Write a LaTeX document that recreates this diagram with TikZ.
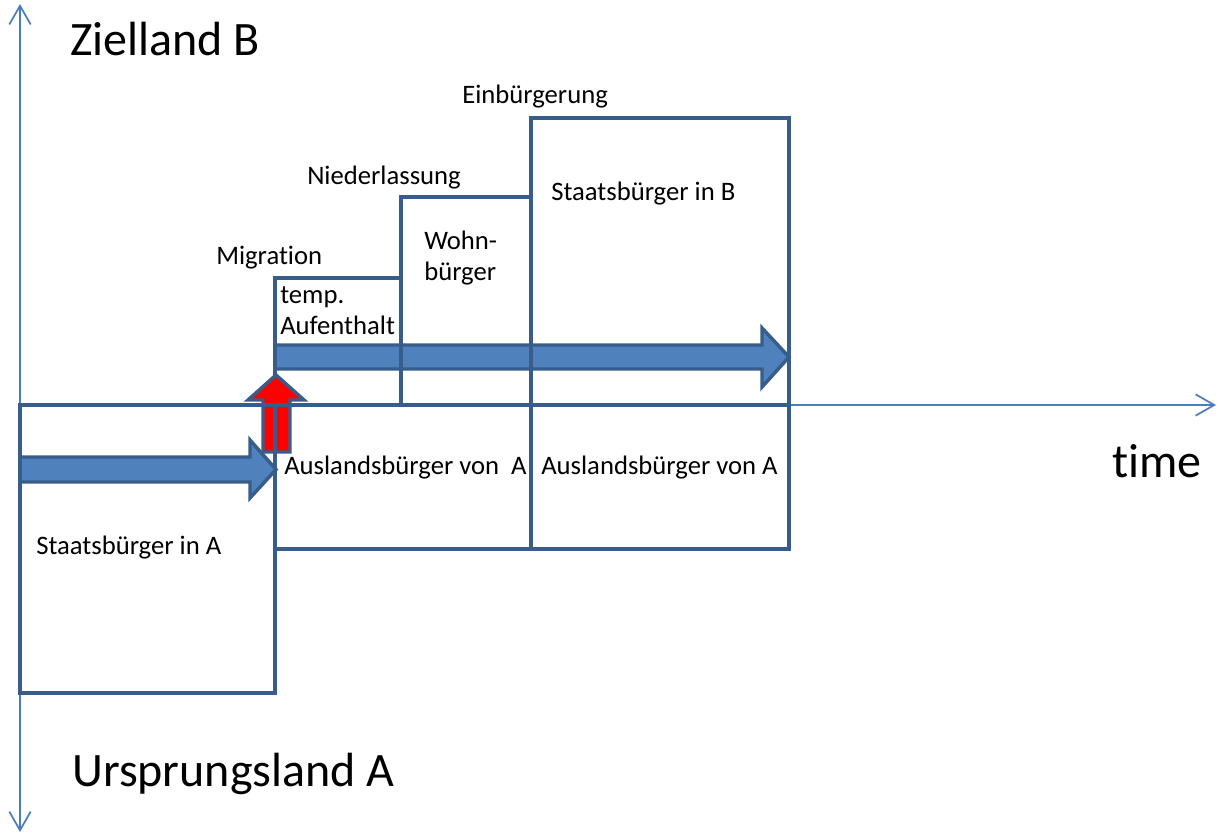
\documentclass[tikz,border=0pt]{standalone}
\usepackage{fontspec}
\setmainfont{Carlito}[Ligatures=NoCommon]
\usetikzlibrary{arrows.meta}
\definecolor{boxline}{HTML}{385D8A}
\definecolor{arrowfill}{HTML}{4F81BD}
\definecolor{axisline}{HTML}{4A7EBB}
\tikzset{
  stage/.style={draw=boxline, line width=3.5pt},
  blockarrow/.style={draw=boxline, line width=2.6pt, fill=arrowfill, line join=miter},
  smalllabel/.style={anchor=base west, inner sep=0pt, font=\fontsize{20}{24}\selectfont},
  biglabel/.style={anchor=base west, inner sep=0pt, font=\fontsize{36}{42}\selectfont},
  axis/.style={draw=axisline, line width=1.3pt, arrows={Straight Barb[length=14pt,width=16pt]-Straight Barb[length=14pt,width=16pt]}}
}
\begin{document}
\begin{tikzpicture}[x=0.75pt,y=-0.75pt]
\useasboundingbox (0,0) rectangle (1220,836);
\coordinate (ytop) at (20,4);
\coordinate (ybot) at (20,832);
\coordinate (origin) at (20,405);
\coordinate (xend) at (1216,405);
% axes
\draw[axis] (ybot) -- (ytop);
\draw[axis, arrows={-Straight Barb[length=14pt,width=16pt]}] (origin) -- (xend);
% stay in B
\draw[blockarrow] (275,345) -- (762,345) -- (762,328) -- (789,357) -- (762,387) -- (762,369) -- (275,369) -- cycle;
\foreach \xa/\ya/\xb/\yb in {275/278/401/405, 401/197/531/405, 531/118/789/405}
  \draw[stage] (\xa,\ya) rectangle (\xb,\yb);
% migration
\draw[blockarrow, fill=red] (263,452) -- (263,400) -- (248,400) -- (276,375) -- (304,400) -- (290,400) -- (290,452) -- cycle;
% stay in A
\draw[blockarrow] (20,457) -- (250,457) -- (250,440) -- (276,469.5) -- (250,498) -- (250,482) -- (20,482) -- cycle;
\foreach \xa/\ya/\xb/\yb in {20/405/275/693, 275/405/531/549, 531/405/789/549}
  \draw[stage] (\xa,\ya) rectangle (\xb,\yb);
% labels
\node[biglabel] (zielland) at (70,55) {Zielland B};
\node[biglabel] (ursprung) at (72,786) {Ursprungsland A};
\node[biglabel] (time) at (1112,477) {time};
\node[smalllabel] (einb) at (462,103) {Einbürgerung};
\node[smalllabel] (nieder) at (307,184) {Niederlassung};
\node[smalllabel] (migr) at (216,264) {Migration};
\node[smalllabel] (staatsB) at (551,200) {Staatsbürger in B};
\node[smalllabel] (wohn) at (424,249) {Wohn-};
\node[smalllabel] (wohnb) at (424,280) {bürger};
\node[smalllabel] (temp) at (280,303) {temp.};
\node[smalllabel] (aufent) at (280,334) {Aufenthalt};
\node[smalllabel] (auslA) at (284,474) {Auslandsbürger von\ \ A};
\node[smalllabel] (auslB) at (541,474) {Auslandsbürger von A};
\node[smalllabel] (staatsA) at (36,554) {Staatsbürger in A};
\end{tikzpicture}
\end{document}
